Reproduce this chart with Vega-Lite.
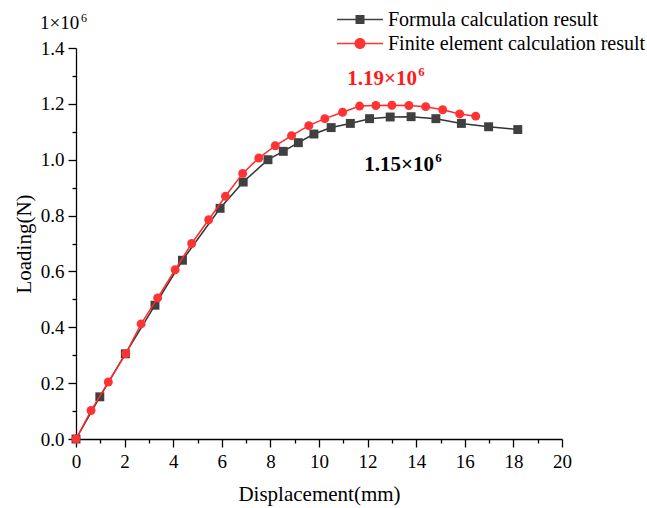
{
  "$schema": "https://vega.github.io/schema/vega-lite/v6.json",
  "autosize": "none",
  "width": 486,
  "height": 391,
  "padding": {"left": 76, "top": 48, "right": 85, "bottom": 69},
  "background": "white",
  "config": {
    "view": {"stroke": null},
    "font": "Liberation Serif",
    "axis": {
      "grid": false,
      "domainColor": "#000000",
      "domainWidth": 1.3,
      "tickColor": "#000000",
      "tickWidth": 1.3,
      "labelColor": "#000000",
      "titleColor": "#000000",
      "labelFont": "Liberation Serif",
      "titleFont": "Liberation Serif",
      "titleFontWeight": "normal",
      "labelFontSize": 19,
      "titleFontSize": 21,
      "labelFlush": false,
      "labelOverlap": false
    }
  },
  "data": {
    "values": [
      {"series": "Formula calculation result", "x": 0, "y": 0},
      {"series": "Formula calculation result", "x": 0.98, "y": 0.151},
      {"series": "Formula calculation result", "x": 2.03, "y": 0.305},
      {"series": "Formula calculation result", "x": 3.25, "y": 0.479},
      {"series": "Formula calculation result", "x": 4.38, "y": 0.64},
      {"series": "Formula calculation result", "x": 5.93, "y": 0.826},
      {"series": "Formula calculation result", "x": 6.88, "y": 0.92},
      {"series": "Formula calculation result", "x": 7.9, "y": 1.0},
      {"series": "Formula calculation result", "x": 8.53, "y": 1.03},
      {"series": "Formula calculation result", "x": 9.15, "y": 1.061},
      {"series": "Formula calculation result", "x": 9.79, "y": 1.092},
      {"series": "Formula calculation result", "x": 10.5, "y": 1.115},
      {"series": "Formula calculation result", "x": 11.29, "y": 1.13},
      {"series": "Formula calculation result", "x": 12.08, "y": 1.147},
      {"series": "Formula calculation result", "x": 12.93, "y": 1.153},
      {"series": "Formula calculation result", "x": 13.79, "y": 1.154},
      {"series": "Formula calculation result", "x": 14.81, "y": 1.147},
      {"series": "Formula calculation result", "x": 15.86, "y": 1.13},
      {"series": "Formula calculation result", "x": 16.98, "y": 1.118},
      {"series": "Formula calculation result", "x": 18.18, "y": 1.108},
      {"series": "Finite element calculation result", "x": 0, "y": 0},
      {"series": "Finite element calculation result", "x": 0.62, "y": 0.102},
      {"series": "Finite element calculation result", "x": 1.33, "y": 0.204},
      {"series": "Finite element calculation result", "x": 2.05, "y": 0.306},
      {"series": "Finite element calculation result", "x": 2.68, "y": 0.412},
      {"series": "Finite element calculation result", "x": 3.36, "y": 0.505},
      {"series": "Finite element calculation result", "x": 4.08, "y": 0.606},
      {"series": "Finite element calculation result", "x": 4.76, "y": 0.7},
      {"series": "Finite element calculation result", "x": 5.46, "y": 0.785},
      {"series": "Finite element calculation result", "x": 6.15, "y": 0.869},
      {"series": "Finite element calculation result", "x": 6.86, "y": 0.951},
      {"series": "Finite element calculation result", "x": 7.52, "y": 1.006},
      {"series": "Finite element calculation result", "x": 8.2, "y": 1.05},
      {"series": "Finite element calculation result", "x": 8.87, "y": 1.086},
      {"series": "Finite element calculation result", "x": 9.58, "y": 1.122},
      {"series": "Finite element calculation result", "x": 10.24, "y": 1.147},
      {"series": "Finite element calculation result", "x": 10.97, "y": 1.17},
      {"series": "Finite element calculation result", "x": 11.67, "y": 1.192},
      {"series": "Finite element calculation result", "x": 12.34, "y": 1.194},
      {"series": "Finite element calculation result", "x": 13.0, "y": 1.195},
      {"series": "Finite element calculation result", "x": 13.7, "y": 1.194},
      {"series": "Finite element calculation result", "x": 14.39, "y": 1.19},
      {"series": "Finite element calculation result", "x": 15.09, "y": 1.179},
      {"series": "Finite element calculation result", "x": 15.79, "y": 1.164},
      {"series": "Finite element calculation result", "x": 16.45, "y": 1.156}
    ]
  },
  "encoding": {
    "x": {"field": "x", "type": "quantitative", "scale": {"domain": [0, 20], "nice": false, "zero": false}, "axis": {
      "values": [0, 1, 2, 3, 4, 5, 6, 7, 8, 9, 10, 11, 12, 13, 14, 15, 16, 17, 18, 19, 20],
      "labelExpr": "datum.value % 2 === 0 ? datum.label : ''",
      "format": "d",
      "tickSize": {"condition": {"test": "datum.value % 2 === 0", "value": 8}, "value": 4},
      "labelPadding": 5,
      "title": "Displacement(mm)",
      "titlePadding": 12
    }},
    "y": {"field": "y", "type": "quantitative", "scale": {"domain": [0, 1.4], "nice": false, "zero": false}, "axis": {
      "values": [0, 0.1, 0.2, 0.3, 0.4, 0.5, 0.6, 0.7, 0.8, 0.9, 1.0, 1.1, 1.2, 1.3, 1.4],
      "labelExpr": "round(datum.value * 10) % 2 === 0 ? datum.label : ''",
      "format": ".1f",
      "tickSize": {"condition": {"test": "round(datum.value * 10) % 2 === 0", "value": 8}, "value": 4},
      "labelPadding": 4,
      "title": "Loading(N)",
      "titlePadding": 6
    }}
  },
  "layer": [
    {
      "transform": [{"filter": "datum.series === 'Formula calculation result'"}],
      "mark": {"type": "line", "color": "#333333", "strokeWidth": 1.5}
    },
    {
      "transform": [{"filter": "datum.series === 'Formula calculation result'"}],
      "mark": {"type": "square", "color": "#404040", "size": 80, "opacity": 1}
    },
    {
      "transform": [{"filter": "datum.series === 'Finite element calculation result'"}],
      "mark": {"type": "line", "color": "#ff2a2a", "strokeWidth": 1.5}
    },
    {
      "transform": [{"filter": "datum.series === 'Finite element calculation result'"}],
      "mark": {"type": "circle", "color": "#ff3333", "size": 80, "opacity": 1}
    },
    {
      "transform": [{"filter": "datum.x < 0"}],
      "mark": {"type": "point", "filled": true, "size": 529},
      "encoding": {
        "color": {"field": "series", "type": "nominal",
          "scale": {"domain": ["Formula calculation result", "Finite element calculation result"], "range": ["#404040", "#ff3333"]},
          "legend": {"title": null, "orient": "none", "legendX": 272.5, "legendY": -40, "padding": 0, "labelOffset": 16.5, "labelFont": "Liberation Serif", "labelFontSize": 20, "labelColor": "#000000", "labelLimit": 400, "symbolSize": 529, "symbolStrokeWidth": 0, "symbolOpacity": 1, "rowPadding": 2}},
        "shape": {"field": "series", "type": "nominal",
          "scale": {"domain": ["Formula calculation result", "Finite element calculation result"], "range": [
            "M-2,-0.06H2V0.06H-2Z M-0.39,-0.39H0.39V0.39H-0.39Z",
            "M-2,-0.06H2V0.06H-2Z M-0.48,0A0.48,0.48,0,1,1,0.48,0A0.48,0.48,0,1,1,-0.48,0Z"
          ]},
          "legend": {"title": null, "orient": "none", "legendX": 272.5, "legendY": -40, "padding": 0, "labelOffset": 16.5, "labelFont": "Liberation Serif", "labelFontSize": 20, "labelColor": "#000000", "labelLimit": 400, "symbolSize": 529, "symbolStrokeWidth": 0, "symbolOpacity": 1, "rowPadding": 2}}
      }
    },
    {
      "transform": [{"filter": "datum.series === 'Formula calculation result' && datum.x === 0"}],
      "mark": {"type": "text", "text": "1×10", "font": "Liberation Serif", "fontSize": 19, "align": "left", "baseline": "alphabetic", "dx": -36, "dy": -19, "color": "#000000"},
      "encoding": {"x": {"datum": 0, "type": "quantitative"}, "y": {"datum": 1.4, "type": "quantitative"}}
    },
    {
      "transform": [{"filter": "datum.series === 'Formula calculation result' && datum.x === 0"}],
      "mark": {"type": "text", "text": "6", "font": "Liberation Serif", "fontSize": 12, "align": "left", "baseline": "alphabetic", "dx": 5, "dy": -26, "color": "#000000"},
      "encoding": {"x": {"datum": 0, "type": "quantitative"}, "y": {"datum": 1.4, "type": "quantitative"}}
    },
    {
      "transform": [{"filter": "datum.series === 'Formula calculation result' && datum.x === 0"}],
      "mark": {"type": "text", "text": "1.19×10", "font": "Liberation Serif", "fontSize": 21, "fontWeight": "bold", "align": "left", "baseline": "alphabetic", "color": "#ff1a1a"},
      "encoding": {"x": {"datum": 11.16, "type": "quantitative"}, "y": {"datum": 1.2685, "type": "quantitative"}}
    },
    {
      "transform": [{"filter": "datum.series === 'Formula calculation result' && datum.x === 0"}],
      "mark": {"type": "text", "text": "6", "font": "Liberation Serif", "fontSize": 13, "fontWeight": "bold", "align": "left", "baseline": "alphabetic", "dx": 71, "dy": -9, "color": "#ff1a1a"},
      "encoding": {"x": {"datum": 11.16, "type": "quantitative"}, "y": {"datum": 1.2685, "type": "quantitative"}}
    },
    {
      "transform": [{"filter": "datum.series === 'Formula calculation result' && datum.x === 0"}],
      "mark": {"type": "text", "text": "1.15×10", "font": "Liberation Serif", "fontSize": 21, "fontWeight": "bold", "align": "left", "baseline": "alphabetic", "color": "#000000"},
      "encoding": {"x": {"datum": 11.86, "type": "quantitative"}, "y": {"datum": 0.958, "type": "quantitative"}}
    },
    {
      "transform": [{"filter": "datum.series === 'Formula calculation result' && datum.x === 0"}],
      "mark": {"type": "text", "text": "6", "font": "Liberation Serif", "fontSize": 13, "fontWeight": "bold", "align": "left", "baseline": "alphabetic", "dx": 71, "dy": -9, "color": "#000000"},
      "encoding": {"x": {"datum": 11.86, "type": "quantitative"}, "y": {"datum": 0.958, "type": "quantitative"}}
    }
  ]
}
